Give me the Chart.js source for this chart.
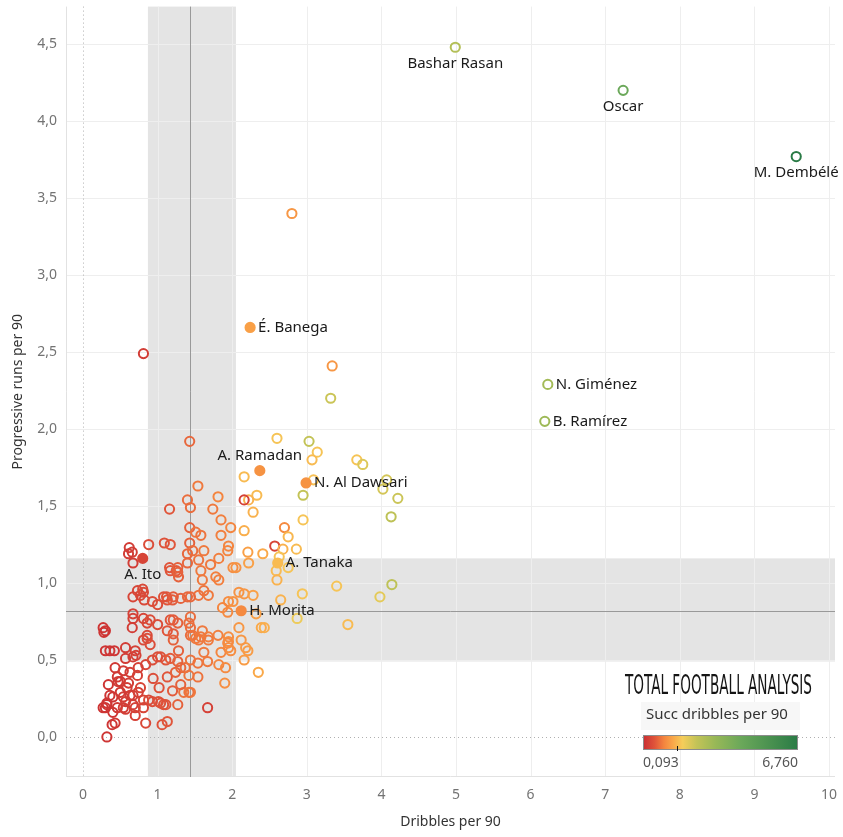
<!DOCTYPE html>
<html><head><meta charset="utf-8">
<script src="https://cdn.jsdelivr.net/npm/chart.js@4.4.1/dist/chart.umd.min.js"></script>
<style>html,body{margin:0;padding:0;background:#fff;} #wrap{width:843px;height:837px;position:relative;}</style>
</head><body><div id="wrap"><canvas id="c"></canvas></div>
<script>
// ---- data ----
const playerNames = ['Bashar Rasan','Oscar','M. Dembélé','N. Giménez','B. Ramírez','É. Banega','A. Ramadan','N. Al Dawsari','A. Tanaka','H. Morita','A. Ito'];
const filledPlayers = ['É. Banega','A. Ramadan','N. Al Dawsari','A. Tanaka','H. Morita','A. Ito'];
const dribbles = [
4.99,7.24,9.56,6.23,6.19,2.24,2.37,2.99,2.61,2.12,0.80,
2.80,0.81,3.34,3.32,1.43,2.60,3.03,3.14,3.07,3.67,
3.75,2.16,3.09,4.07,4.02,4.22,2.95,2.33,2.22,2.16,
1.54,1.40,1.44,1.16,1.74,1.81,2.28,2.95,4.13,2.70,
2.16,1.85,1.98,1.43,1.51,1.09,1.17,0.88,1.43,0.62,
0.66,0.61,0.67,1.58,1.85,1.95,1.94,2.21,2.41,2.57,
2.68,2.86,2.75,2.63,2.59,2.75,2.22,2.01,2.05,1.78,
1.82,2.60,1.60,1.62,1.68,1.55,2.09,2.16,2.28,2.65,
2.94,1.95,2.01,1.87,1.94,2.32,2.87,2.39,2.09,2.43,
1.95,1.60,1.68,3.40,4.14,3.98,3.55,1.40,1.47,1.40,
1.17,1.25,1.16,1.28,0.73,0.80,0.81,0.77,0.67,0.82,
0.93,1.12,1.13,1.20,1.31,1.40,1.44,0.67,0.67,0.66,
0.81,0.86,1.00,1.17,1.27,1.44,1.44,0.30,0.27,0.86,
1.13,1.21,1.44,0.30,0.36,0.42,0.57,0.67,0.70,0.81,
0.86,0.90,1.21,1.28,1.04,1.11,1.17,0.43,0.54,0.63,
0.73,0.84,0.94,1.13,1.24,1.31,1.37,1.42,1.44,1.35,
0.34,0.46,0.50,0.36,0.32,0.30,0.40,0.46,0.54,0.63,
0.67,0.70,0.54,0.81,0.88,1.04,1.11,1.27,0.43,0.84,
1.06,1.13,0.32,0.39,0.77,0.59,1.55,1.68,1.95,1.95,
2.18,1.85,1.62,1.54,1.67,1.82,1.91,2.35,1.90,1.54,
1.67,0.47,0.61,0.40,0.57,0.67,0.93,1.02,1.08,1.20,
1.31,1.42,0.27,0.32,0.57,0.70,0.81,1.27,1.27,1.58,
1.00,1.08,1.21,0.90,1.21,1.42,0.28,0.57,0.71,0.74,
0.93,1.00,1.27,1.44,1.47,1.51,1.58,1.81,1.94,1.98,
2.12,2.21,2.16,0.50,0.74,1.01,1.62,1.55,1.82,1.71];
const progRuns = [
4.48,4.20,3.77,2.29,2.05,2.66,1.73,1.65,1.13,0.82,1.16,
3.40,2.49,2.41,2.20,1.92,1.94,1.92,1.85,1.80,1.80,
1.77,1.69,1.67,1.67,1.61,1.55,1.57,1.57,1.54,1.54,
1.63,1.54,1.49,1.48,1.48,1.56,1.46,1.41,1.43,1.36,
1.34,1.41,1.36,1.36,1.33,1.26,1.25,1.25,1.26,1.23,
1.20,1.19,1.13,1.31,1.31,1.24,1.21,1.20,1.19,1.24,
1.22,1.22,1.30,1.17,1.08,1.10,1.13,1.10,1.10,1.04,
1.02,1.02,1.02,0.95,0.92,0.92,0.94,0.93,0.92,0.89,
0.93,0.88,0.88,0.84,0.81,0.80,0.77,0.71,0.71,0.71,
0.65,0.69,0.65,0.98,0.99,0.91,0.73,1.19,1.21,1.13,
1.08,1.08,1.10,1.04,0.95,0.96,0.94,0.92,0.91,0.89,
0.88,0.91,0.89,0.89,0.90,0.91,0.91,0.80,0.77,0.71,
0.77,0.74,0.73,0.76,0.74,0.78,0.71,0.69,0.71,0.66,
0.69,0.67,0.66,0.56,0.56,0.56,0.51,0.52,0.56,0.63,
0.64,0.60,0.63,0.56,0.52,0.50,0.51,0.45,0.43,0.42,
0.40,0.47,0.38,0.39,0.42,0.45,0.45,0.40,0.29,0.29,
0.34,0.39,0.36,0.27,0.21,0.19,0.16,0.19,0.26,0.27,
0.21,0.14,0.19,0.24,0.24,0.22,0.21,0.21,0.09,0.09,
0.08,0.10,0.00,0.08,0.32,0.32,0.63,0.63,0.62,0.58,
0.58,0.55,0.55,0.48,0.49,0.47,0.45,0.42,0.35,0.39,
0.19,0.36,0.35,0.26,0.23,0.27,0.23,0.32,0.21,0.30,
0.34,0.29,0.19,0.22,0.18,0.19,0.19,1.10,1.07,1.08,
0.86,0.91,0.91,0.76,0.76,0.74,0.68,0.58,0.53,0.45,
0.50,0.52,0.49,0.50,0.66,0.64,0.65,0.66,0.61,0.56,
0.63,0.56,0.50,0.29,0.29,0.23,1.21,1.15,1.16,1.12];
const succDribbles = [
2.7,4.3,6.76,3.0,3.1,1.3,1.15,1.15,1.6,1.05,0.4,
1.2,0.3,1.2,2.3,0.75,1.7,2.4,1.7,1.6,1.7,
2.1,1.6,1.65,2.2,2.2,2.3,2.4,1.6,1.5,0.35,
0.9,0.8,0.8,0.6,0.9,1.0,1.5,1.7,2.5,1.05,
1.45,0.95,1.0,0.7,0.85,0.55,0.6,0.5,0.7,0.3,
0.3,0.3,0.3,0.85,0.95,1.0,1.0,1.3,1.4,0.4,
1.5,1.6,1.55,1.7,1.6,1.7,1.3,1.1,1.15,0.95,
0.95,1.5,0.9,0.85,0.9,0.85,1.15,1.2,1.3,1.5,
1.7,1.1,1.15,1.0,1.05,1.3,1.9,1.4,1.2,1.45,
1.1,0.9,0.95,1.7,2.5,2.0,1.6,0.75,0.8,0.75,
0.6,0.65,0.6,0.7,0.4,0.45,0.45,0.45,0.4,0.45,
0.5,0.6,0.6,0.65,0.7,0.75,0.75,0.35,0.35,0.3,
0.4,0.45,0.5,0.6,0.7,0.8,0.8,0.2,0.2,0.45,
0.6,0.65,0.8,0.2,0.2,0.2,0.3,0.3,0.35,0.45,
0.5,0.5,0.7,0.7,0.55,0.6,0.65,0.25,0.3,0.3,
0.35,0.4,0.5,0.6,0.7,0.75,0.8,0.85,0.9,0.85,
0.2,0.25,0.25,0.2,0.2,0.2,0.2,0.25,0.3,0.3,
0.3,0.35,0.3,0.4,0.45,0.55,0.6,0.7,0.25,0.45,
0.55,0.6,0.2,0.2,0.4,0.3,0.9,0.9,1.1,1.1,
1.25,1.0,0.9,0.85,0.9,1.0,1.05,1.4,1.1,0.85,
0.35,0.25,0.3,0.2,0.3,0.3,0.5,0.55,0.55,0.65,
0.7,0.85,0.2,0.2,0.3,0.35,0.4,0.7,0.7,0.9,
0.5,0.55,0.65,0.5,0.65,0.8,0.2,0.3,0.35,0.35,
0.5,0.5,0.7,0.85,0.85,0.9,0.9,0.95,1.05,1.1,
1.2,1.25,1.25,0.25,0.35,0.55,0.9,0.85,0.95,0.9];
const xTicks = [0,1,2,3,4,5,6,7,8,9,10];
const yTicks = [0,0.5,1,1.5,2,2.5,3,3.5,4,4.5];
const avgDribbles = 1.43, bandDribbles = [0.87, 2.05];
const avgRuns = 0.82, bandRuns = [0.49, 1.16];
const colorMin = 0.093, colorMax = 6.760;
const colorStops = [[0.093,'#c92d33'],[0.6,'#e0553a'],[1.0,'#f4853f'],[1.4,'#faa94a'],[1.8,'#f5cd5a'],[2.4,'#c3c357'],[3.2,'#98b857'],[4.3,'#6ba85a'],[6.76,'#2a7b46']];
const labelPlace = {'Bashar Rasan':'below','Oscar':'below','M. Dembélé':'below','N. Giménez':'right','B. Ramírez':'right','É. Banega':'right','A. Ramadan':'above','N. Al Dawsari':'right','A. Tanaka':'right','H. Morita':'right','A. Ito':'below'};

// ---- helpers ----
function hexToRgb(h){return [parseInt(h.slice(1,3),16),parseInt(h.slice(3,5),16),parseInt(h.slice(5,7),16)];}
function colorFor(v){
  const s = colorStops;
  if (v <= s[0][0]) return s[0][1];
  for (let i = 1; i < s.length; i++) {
    if (v <= s[i][0]) {
      const t = (v - s[i-1][0]) / (s[i][0] - s[i-1][0]);
      const a = hexToRgb(s[i-1][1]), b = hexToRgb(s[i][1]);
      return 'rgb(' + a.map((c,k)=>Math.round(c + (b[k]-c)*t)).join(',') + ')';
    }
  }
  return s[s.length-1][1];
}
const n = Math.min(dribbles.length, progRuns.length, succDribbles.length);
const namedPts = [], otherPts = [];
for (let i = 0; i < n; i++) {
  const p = {x: dribbles[i], y: progRuns[i], s: succDribbles[i], name: i < playerNames.length ? playerNames[i] : ''};
  (p.name ? namedPts : otherPts).push(p);
}
const fmt = v => (Math.round(v*10)/10).toFixed(1).replace('.', ',');
const FONT = '"Noto Sans", "Open Sans", sans-serif';

const decor = {
  id: 'decor',
  beforeDatasetsDraw(chart) {
    const {ctx, chartArea: a, scales: {x, y}} = chart;
    const line = (x0,y0,x1,y1) => {ctx.beginPath(); ctx.moveTo(x0,y0); ctx.lineTo(x1,y1); ctx.stroke();};
    ctx.save();
    ctx.fillStyle = '#e4e4e4';
    const bx0 = x.getPixelForValue(bandDribbles[0]), bx1 = x.getPixelForValue(bandDribbles[1]);
    ctx.fillRect(bx0, a.top, bx1 - bx0, a.bottom - a.top);
    const by0 = y.getPixelForValue(bandRuns[1]), by1 = y.getPixelForValue(bandRuns[0]);
    ctx.fillRect(a.left, by0, a.right - a.left, by1 - by0);
    ctx.lineWidth = 1;
    ctx.strokeStyle = '#eeeeee';
    xTicks.forEach(v => { if (v === 0) return; const p = Math.round(x.getPixelForValue(v)) + 0.5; line(p, a.top, p, a.bottom); });
    yTicks.forEach(v => { if (v === 0) return; const p = Math.round(y.getPixelForValue(v)) + 0.5; line(a.left, p, a.right, p); });
    ctx.strokeStyle = '#e2e2e2';
    line(a.left + 0.5, a.top, a.left + 0.5, a.bottom);
    line(a.left, a.bottom - 0.5, a.right, a.bottom - 0.5);
    ctx.setLineDash([1, 3]);
    ctx.strokeStyle = '#b0b0b0';
    const zx = Math.round(x.getPixelForValue(0)) + 0.5;
    line(zx, a.top, zx, a.bottom);
    const zy = Math.round(y.getPixelForValue(0)) + 0.5;
    line(a.left, zy, a.right, zy);
    ctx.setLineDash([]);
    ctx.strokeStyle = '#999999';
    const rx = Math.round(x.getPixelForValue(avgDribbles)) + 0.5;
    line(rx, a.top, rx, a.bottom);
    const ry = Math.round(y.getPixelForValue(avgRuns)) + 0.5;
    line(a.left, ry, a.right, ry);
    ctx.restore();
  },
  afterDatasetsDraw(chart) {
    const {ctx} = chart;
    const meta = chart.getDatasetMeta(1);
    ctx.save();
    ctx.font = '15px ' + FONT;
    ctx.fillStyle = '#1a1a1a';
    ctx.textBaseline = 'middle';
    meta.data.forEach((el, i) => {
      const name = namedPts[i].name;
      const place = labelPlace[name];
      if (place === 'below') { ctx.textAlign = 'center'; ctx.fillText(name, el.x, el.y + 16); }
      else if (place === 'above') { ctx.textAlign = 'center'; ctx.fillText(name, el.x, el.y - 15); }
      else { ctx.textAlign = 'left'; ctx.fillText(name, el.x + 8, el.y); }
    });
    ctx.restore();
  },
  afterDraw(chart) {
    const {ctx} = chart;
    ctx.save();
    ctx.font = '27px "Liberation Sans Narrow", "DejaVu Sans Condensed", sans-serif';
    ctx.fillStyle = '#151515';
    ctx.textBaseline = 'alphabetic';
    ctx.textAlign = 'left';
    const txt = 'TOTAL FOOTBALL ANALYSIS';
    const w = ctx.measureText(txt).width;
    ctx.translate(625, 694);
    ctx.scale(187 / w, 1);
    ctx.fillText(txt, 0, 0);
    ctx.restore();
    ctx.save();
    ctx.fillStyle = '#f7f7f7';
    ctx.fillRect(641, 702, 159, 28);
    ctx.font = '15px ' + FONT;
    ctx.fillStyle = '#333333';
    ctx.textBaseline = 'middle';
    ctx.textAlign = 'left';
    ctx.fillText('Succ dribbles per 90', 646, 715);
    const gx0 = 643, gx1 = 798;
    const g = ctx.createLinearGradient(gx0, 0, gx1, 0);
    colorStops.forEach(([v, c]) => g.addColorStop((v - colorMin) / (colorMax - colorMin), c));
    ctx.fillStyle = g;
    ctx.fillRect(gx0, 735, gx1 - gx0, 15);
    ctx.strokeStyle = '#8c8c8c';
    ctx.lineWidth = 1;
    ctx.strokeRect(gx0 + 0.5, 735.5, gx1 - gx0 - 1, 14);
    ctx.strokeStyle = '#111';
    ctx.beginPath(); ctx.moveTo(677.5, 746); ctx.lineTo(677.5, 751); ctx.stroke();
    ctx.font = '14px ' + FONT;
    ctx.fillStyle = '#555555';
    ctx.fillText(colorMin.toFixed(3).replace('.', ','), gx0, 763);
    ctx.textAlign = 'right';
    ctx.fillText(colorMax.toFixed(3).replace('.', ','), gx1, 763);
    ctx.restore();
  }
};

new Chart(document.getElementById('c'), {
  type: 'scatter',
  data: {
    datasets: [
      {label: 'Players', data: otherPts, order: 1,
       pointRadius: 4.6, pointBorderWidth: 2,
       pointBorderColor: c => colorFor(c.raw.s), pointBackgroundColor: 'rgba(0,0,0,0)'},
      {label: 'Named', data: namedPts, order: 0,
       pointRadius: 4.6, pointBorderWidth: 2,
       pointBorderColor: c => colorFor(c.raw.s),
       pointBackgroundColor: c => filledPlayers.includes(c.raw.name) ? colorFor(c.raw.s) : 'rgba(0,0,0,0)'}
    ]
  },
  options: {
    responsive: true, maintainAspectRatio: false, animation: false, events: [],
    layout: {padding: {top: 6, right: 8, left: 0, bottom: 0}},
    plugins: {legend: {display: false}, tooltip: {enabled: false}},
    scales: {
      x: {
        type: 'linear', min: -0.228, max: 10.08,
        grid: {display: false, drawTicks: false}, border: {display: false},
        afterBuildTicks: s => { s.ticks = xTicks.map(v => ({value: v})); },
        afterFit: s => { s.height = 60; s.paddingLeft = 0; s.paddingRight = 0; },
        ticks: {padding: 10, color: '#737373', font: {family: FONT, size: 14}, callback: v => String(v)},
        title: {display: true, text: 'Dribbles per 90', color: '#333333', font: {family: FONT, size: 14}, padding: {top: 4, bottom: 6.6}}
      },
      y: {
        type: 'linear', min: -0.26, max: 4.744,
        grid: {display: false, drawTicks: false}, border: {display: false},
        afterBuildTicks: s => { s.ticks = yTicks.map(v => ({value: v})); },
        afterFit: s => { s.width = 66; s.paddingTop = 0; s.paddingBottom = 0; },
        ticks: {padding: 9, color: '#737373', font: {family: FONT, size: 14}, callback: v => fmt(v)},
        title: {display: true, text: 'Progressive runs per 90', color: '#333333', font: {family: FONT, size: 14}, padding: {top: 9.6, bottom: 4}}
      }
    }
  },
  plugins: [decor]
});
</script></body></html>
